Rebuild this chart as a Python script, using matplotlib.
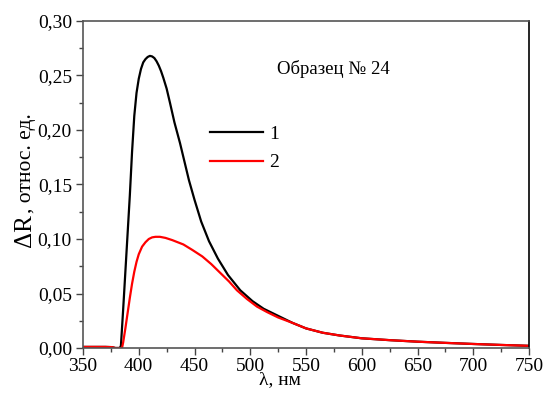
import matplotlib
matplotlib.use("Agg")
import matplotlib.pyplot as plt
from matplotlib.ticker import MultipleLocator, FuncFormatter

plt.rcParams['font.family'] = ['Liberation Serif', 'DejaVu Serif']

# Curve 1 (black)
wl_1 = [350, 360, 370, 376, 379, 383, 384, 386, 388, 390, 392, 394, 396, 398,
        400, 402, 404, 406, 408, 410, 412, 414, 416, 418, 420, 422, 425, 428,
        432, 437, 441, 445, 450, 456, 463, 471, 480, 491, 502, 512, 524, 538,
        550, 565, 580, 600, 625, 650, 675, 700, 725, 750]
dr_1 = [0.001, 0.001, 0.001, 0.0008, 0.0, 0.0, 0.002, 0.035, 0.070, 0.105,
        0.140, 0.180, 0.213, 0.234, 0.247, 0.256, 0.262, 0.265, 0.267, 0.268,
        0.2675, 0.266, 0.263, 0.259, 0.254, 0.248, 0.238, 0.225, 0.207, 0.188,
        0.171, 0.154, 0.136, 0.116, 0.098, 0.082, 0.067, 0.053, 0.043, 0.036,
        0.030, 0.023, 0.018, 0.014, 0.0115, 0.0089, 0.0072, 0.0058, 0.0047,
        0.0037, 0.0028, 0.0020]

# Curve 2 (red)
wl_2 = [350, 360, 370, 376, 379, 385, 386, 388, 390, 392, 394, 396, 398, 400,
        403, 406, 409, 412, 415, 419, 424, 430, 435, 440, 448, 457, 465, 473,
        481, 488, 497, 506, 515, 525, 538, 550, 565, 580, 600, 625, 650, 675,
        700, 725, 750]
dr_2 = [0.001, 0.001, 0.001, 0.0008, 0.0, 0.0, 0.005, 0.018, 0.032, 0.046,
        0.059, 0.070, 0.079, 0.086, 0.093, 0.097, 0.100, 0.1015, 0.102, 0.102,
        0.101, 0.099, 0.097, 0.095, 0.090, 0.084, 0.077, 0.069, 0.061, 0.053,
        0.045, 0.038, 0.033, 0.028, 0.023, 0.018, 0.014, 0.0115, 0.0089,
        0.0072, 0.0058, 0.0047, 0.0037, 0.0028, 0.0020]

labels = ["1", "2"]
sample_text = "Образец № 24"

fig = plt.figure(figsize=(5.44, 3.94), dpi=100)
ax = fig.add_axes([83/544, 46/394, 446/544, 327/394])

ax.plot(wl_1, dr_1, color="black", lw=1.6, label=labels[0])
ax.plot(wl_2, dr_2, color="#ff0000", lw=1.6, label=labels[1])

ax.set_xlim(350, 750)
ax.set_ylim(0, 0.30)
ax.xaxis.set_major_locator(MultipleLocator(50))
ax.xaxis.set_minor_locator(MultipleLocator(25))
ax.yaxis.set_major_locator(MultipleLocator(0.05))
ax.yaxis.set_minor_locator(MultipleLocator(0.025))
ax.yaxis.set_major_formatter(FuncFormatter(lambda v, p: f"{v:.2f}".replace(".", ",")))

ax.tick_params(which="major", direction="out", length=5, width=1.0,
               labelsize=14, pad=3, top=False, right=False, colors="#444444",
               labelcolor="black")
ax.tick_params(axis="x", which="major", pad=2)
ax.tick_params(which="minor", direction="out", length=3, width=1.0,
               top=False, right=False, colors="#444444")

for s in ["left", "bottom", "top"]:
    ax.spines[s].set_color("#555555")
    ax.spines[s].set_linewidth(1.2)
ax.spines["right"].set_color("black")
ax.spines["right"].set_linewidth(1.2)

ax.set_xlabel("λ, нм", fontsize=14)
ax.xaxis.set_label_coords((280 - 83) / 446, -0.072)

# y label with larger ΔR
fig.text(31/544, (394-247)/394, "ΔR", fontsize=18, rotation=90,
         rotation_mode="anchor", ha="left", va="baseline")
fig.text(31/544, (394-213)/394, ", относ. ед.", fontsize=15.5, rotation=90,
         rotation_mode="anchor", ha="left", va="baseline")

ax.text(0.436, 0.853, sample_text, transform=ax.transAxes, fontsize=13.5,
        ha="left", va="center")

ax.legend(loc="center left", bbox_to_anchor=(0.285, 0.61), frameon=False,
          fontsize=14, handlelength=2.7, handletextpad=0.35, labelspacing=0.55,
          borderpad=0, borderaxespad=0)

fig.savefig("out.png", dpi=100)
